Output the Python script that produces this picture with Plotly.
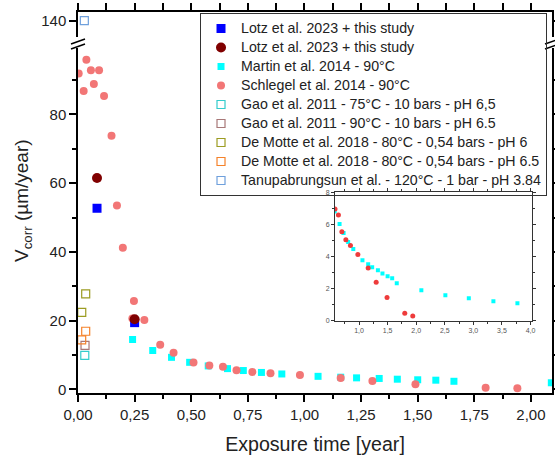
import plotly.graph_objects as go

# ---------------- data ----------------
lotz_sq_x = [0.084, 0.250]
lotz_sq_y = [52.7, 19.4]
lotz_ci_x = [0.084, 0.250]
lotz_ci_y = [61.5, 20.4]

martin_x = [0.241, 0.330, 0.413, 0.493, 0.575, 0.66, 0.73, 0.81, 0.90, 1.06, 1.16, 1.23,
            1.33, 1.41, 1.50, 1.58, 1.66, 2.09, 2.51, 2.92, 3.35, 3.77]
martin_y = [14.5, 11.3, 9.3, 7.85, 6.8, 6.02, 5.46, 4.90, 4.46, 3.77, 3.52, 3.33,
            3.15, 2.94, 2.77, 2.65, 2.33, 1.90, 1.58, 1.40, 1.21, 1.08]

schlegel_x = [0.003, 0.025, 0.037, 0.057, 0.070, 0.093, 0.115, 0.148, 0.172, 0.198,
              0.240, 0.247, 0.293, 0.363, 0.422, 0.510, 0.58, 0.64, 0.70, 0.77, 0.85,
              0.98, 1.16, 1.30, 1.49, 1.80, 1.94]
schlegel_y = [91.9, 86.8, 95.9, 92.9, 88.9, 92.9, 85.4, 73.8, 53.5, 41.2,
              20.6, 25.7, 20.2, 13.0, 10.6, 7.8, 6.96, 6.58, 5.54, 5.04, 4.69,
              4.13, 3.29, 2.40, 1.44, 0.46, 0.29]

gao75_x, gao75_y = [0.030], [9.9]
gao90_x, gao90_y = [0.031], [12.8]
demotte6_x, demotte6_y = [0.034, 0.0165], [27.8, 22.4]
demotte65_x, demotte65_y = [0.034, 0.0163], [16.9, 14.4]
tanu_x, tanu_y = [0.028], [140]

names = ["Lotz et al. 2023 + this study", "Lotz et al. 2023 + this study",
         "Martin et al. 2014 - 90°C", "Schlegel et al. 2014 - 90°C",
         "Gao et al. 2011 - 75°C - 10 bars - pH 6,5", "Gao et al. 2011 - 90°C - 10 bars - pH 6.5",
         "De Motte et al. 2018 - 80°C - 0,54 bars - pH 6",
         "De Motte et al. 2018 - 80°C - 0,54 bars - pH 6.5",
         "Tanupabrungsun et al. - 120°C - 1 bar - pH 3.84"]

FONT = "Liberation Sans, Arial, sans-serif"
LEG_FS = 14.2


def lab(s):
    return f'<span style="font-size:{LEG_FS}px">{s}</span>'


fig = go.Figure()

fig.add_trace(go.Scatter(x=martin_x, y=martin_y, mode="markers", name=lab(names[2]), legendrank=3,
                         marker=dict(symbol="square", size=7, color="#00ffff")))
fig.add_trace(go.Scatter(x=schlegel_x, y=schlegel_y, mode="markers", name=lab(names[3]), legendrank=4,
                         marker=dict(symbol="circle", size=8, color="#f27676")))
fig.add_trace(go.Scatter(x=lotz_sq_x, y=lotz_sq_y, mode="markers", name=lab(names[0]), legendrank=1,
                         marker=dict(symbol="square", size=9, color="#0000ff")))
fig.add_trace(go.Scatter(x=lotz_ci_x, y=lotz_ci_y, mode="markers", name=lab(names[1]), legendrank=2,
                         marker=dict(symbol="circle", size=10, color="#800000")))

open_sets = [(gao75_x, gao75_y, names[4], "#33cccc", 5, "x", "y"),
             (gao90_x, gao90_y, names[5], "#a87878", 6, "x", "y"),
             (demotte6_x, demotte6_y, names[6], "#9c9c22", 7, "x", "y"),
             (demotte65_x, demotte65_y, names[7], "#f5822a", 8, "x", "y"),
             (tanu_x, tanu_y, names[8], "#6fa0dc", 9, "x2", "y2")]
for xs, ys, nm, col, rk, xa, ya in open_sets:
    fig.add_trace(go.Scatter(x=xs, y=ys, mode="markers", name=lab(nm), legendrank=rk,
                             xaxis=xa, yaxis=ya,
                             marker=dict(symbol="square-open", size=8, color=col,
                                         line=dict(width=1.2, color=col))))

# inset
fig.add_trace(go.Scatter(x=martin_x, y=martin_y, mode="markers", xaxis="x3", yaxis="y3",
                         showlegend=False, marker=dict(symbol="square", size=4, color="#00ffff")))
fig.add_trace(go.Scatter(x=schlegel_x, y=schlegel_y, mode="markers", xaxis="x3", yaxis="y3",
                         showlegend=False, marker=dict(symbol="circle", size=5, color="#ee3b3b")))

axcommon = dict(showline=True, linecolor="black", linewidth=1.5, showgrid=False, zeroline=False,
                tickcolor="black", tickwidth=1.5, automargin=False)

LOW_TOP = 0.9055
UP_BOT = 0.9344

fig.update_layout(
    width=555, height=455,
    margin=dict(l=78, r=3, t=12, b=62),
    paper_bgcolor="white", plot_bgcolor="white",
    separators=",.",
    font=dict(family=FONT, size=15, color="#222"),
    showlegend=True,
    legend=dict(x=0.2574, y=0.9974, xanchor="left", yanchor="top",
                bgcolor="rgba(255,255,255,0)", bordercolor="#333", borderwidth=1,
                font=dict(size=12, color="#222"), tracegroupgap=0),
    xaxis=dict(axcommon, domain=[0, 1], anchor="y", range=[0, 2.093], dtick=0.25, tick0=0,
               tickformat=".2f", ticks="outside", ticklen=7,
               minor=dict(dtick=0.125, ticklen=4, ticks="outside", tickcolor="black", tickwidth=1.5),
               title=dict(text="Exposure time [year]", font=dict(size=19.6), standoff=16)),
    xaxis2=dict(axcommon, matches="x", domain=[0, 1], anchor="y2", side="top",
                dtick=0.125, tick0=0, ticks="outside", ticklen=7, showticklabels=False),
    yaxis=dict(axcommon, domain=[0, LOW_TOP], anchor="x", range=[-1.08, 99.35], dtick=20, tick0=0,
               ticks="outside", ticklen=7, mirror="ticks",
               minor=dict(dtick=10, ticklen=4, ticks="outside", tickcolor="black", tickwidth=1.5)),
    yaxis2=dict(axcommon, domain=[UP_BOT, 1], anchor="x2", range=[135.25, 142.53],
                tickvals=[140], ticks="outside", ticklen=7, mirror="ticks"),
    xaxis3=dict(showline=True, linecolor="#333", linewidth=1, showgrid=False, zeroline=False,
                automargin=False,
                domain=[0.5422, 0.9572], anchor="y3", range=[0.58, 4.02],
                tickvals=[1.0, 1.5, 2.0, 2.5, 3.0, 3.5, 4.0], tickformat=".1f",
                ticks="outside", ticklen=3, tickcolor="#333", mirror="ticks",
                minor=dict(dtick=0.25, ticklen=2, ticks="outside", tickcolor="#333"),
                tickfont=dict(size=7, color="#555")),
    yaxis3=dict(showline=True, linecolor="#333", linewidth=1, showgrid=False, zeroline=False,
                automargin=False,
                domain=[0.1898, 0.5268], anchor="x3", range=[0, 8], dtick=2, tick0=0,
                ticks="outside", ticklen=3, tickcolor="#333", mirror="ticks",
                minor=dict(dtick=1, ticklen=2, ticks="outside", tickcolor="#333"),
                tickfont=dict(size=7, color="#555")),
)

# y-axis title (placed as rotated annotation to match the reference position)
fig.add_annotation(text="V<sub>corr</sub> (µm/year)", xref="paper", yref="paper",
                   x=-0.116, y=0.504, xanchor="center", yanchor="middle", textangle=-90,
                   showarrow=False, font=dict(size=19, color="#222"))

# axis-break marks (decoration) on left and right axes
BRK = 0.916
for xa in (0, 1):
    for dy in (-2.5, 2.5):
        fig.add_shape(type="line", xref="paper", yref="paper",
                      xsizemode="pixel", ysizemode="pixel", xanchor=xa, yanchor=BRK,
                      x0=-7, x1=7, y0=dy - 2.5, y1=dy + 2.5,
                      line=dict(color="black", width=1.5))

fig.write_html("out.html", config={"displayModeBar": False},
               post_script="document.body.style.margin='0';")
